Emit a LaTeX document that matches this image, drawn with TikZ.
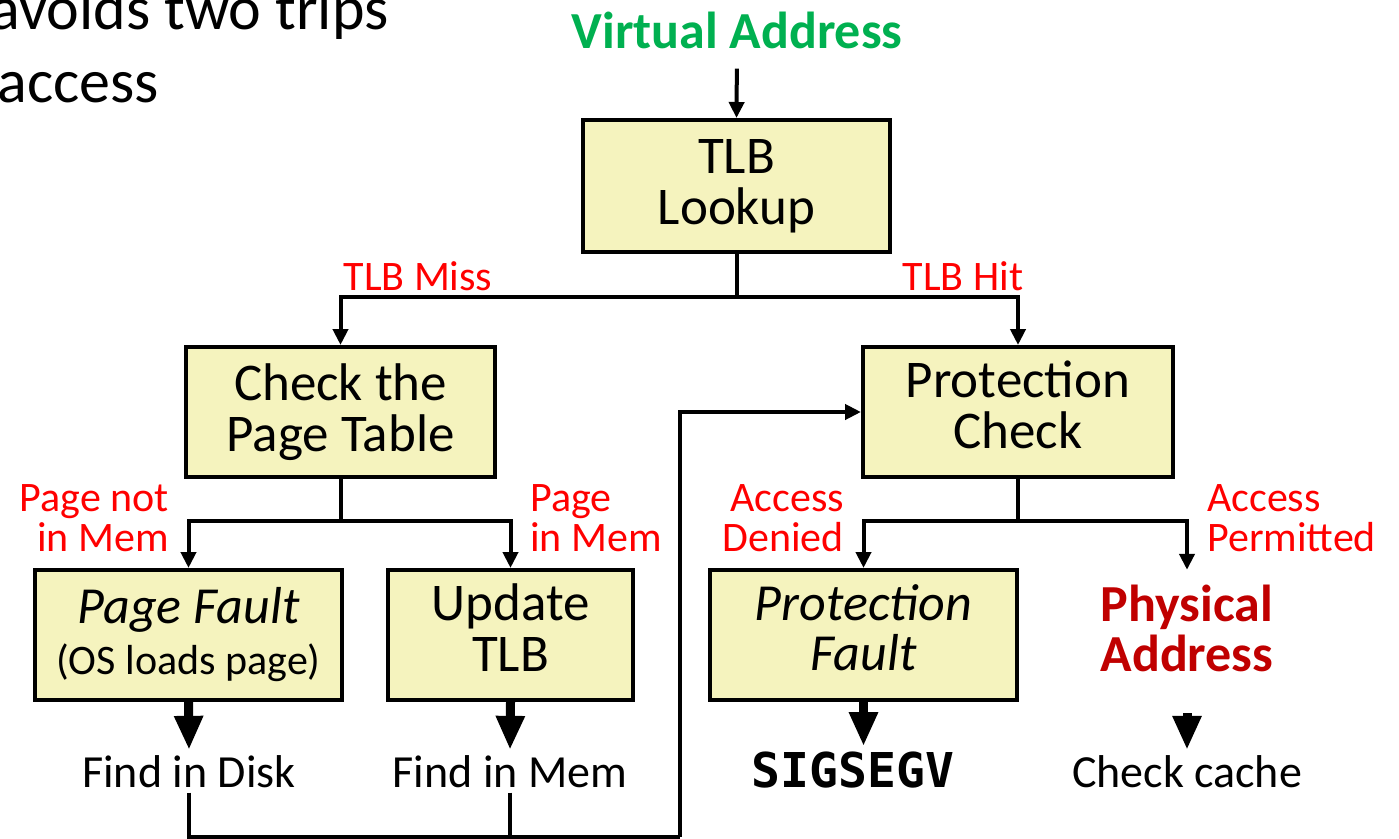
\documentclass[tikz,border=0pt]{standalone}
\usepackage{fontspec}
\setmainfont{Carlito}
\newfontfamily\codefont{DejaVu Sans Mono}
\usetikzlibrary{arrows.meta,positioning}

\definecolor{boxfill}{RGB}{245,243,190}
\definecolor{lblred}{RGB}{255,0,0}
\definecolor{vagreen}{RGB}{0,176,80}
\definecolor{pared}{RGB}{192,0,0}

\newcommand{\bigtxt}{\fontsize{53}{51}\selectfont}
\newcommand{\lbltxt}{\fontsize{42}{40}\selectfont}
\newcommand{\resulttxt}{\fontsize{46}{46}\selectfont}

\begin{document}
\begin{tikzpicture}[x=1pt,y=-1pt,
		box/.style={draw, line width=4pt, fill=boxfill, minimum height=130pt, align=center, font=\bigtxt, inner sep=0pt},
		lbl/.style={text=lblred, font=\lbltxt, inner sep=0pt},
		outtxt/.style={font=\resulttxt, inner sep=5pt, anchor=base},
		conn/.style={line width=4pt},
		fat/.style={line width=9pt, -{Triangle[length=34pt,width=27pt]}},
		>={Triangle[length=16pt,width=15pt]}]
	\useasboundingbox (0,0) rectangle (1399,838);

	% slide text running in from the left
	\node[font=\fontsize{62}{74}\selectfont, anchor=base east, inner sep=0pt] (slide1) at (389,29) {avoids two trips};
	\node[font=\fontsize{62}{74}\selectfont, anchor=base east, inner sep=0pt] (slide2) at (159,102) {access};

	% boxes
	\node[font=\fontsize{52}{50}\selectfont\bfseries, text=vagreen, anchor=base, inner sep=0pt] (vaddr) at (737,48) {Virtual Address};
	\node[box, minimum width=307pt, minimum height=132pt] (lookup) at (736.5,186) {TLB\\Lookup};
	\node[box, minimum width=309pt] (ptable) at (340.5,412) {Check the\\Page Table};
	\node[box, minimum width=310pt] (protcheck) at (1018,412) {Protection\\Check\strut};
	\node[box, minimum width=307pt] (pfault) at (188.5,635) {{\fontsize{52}{48}\selectfont\itshape Page Fault}\\{\fontsize{42}{44}\selectfont (OS loads page)}};
	\node[box, minimum width=245pt] (updtlb) at (510.5,635) {Update\\TLB\strut};
	\node[box, minimum width=307pt, font=\fontsize{52}{50}\selectfont\itshape] (protfault) at (863.5,635) {Protection\\Fault\strut};
	\node[align=center, font=\fontsize{52}{50}\selectfont\bfseries, text=pared, minimum height=116pt, inner sep=0pt] (paddr) at (1187,628) {Physical\\Address};

	% where each path ends up
	\node[outtxt] (disk) at (189,787) {Find in Disk};
	\node[outtxt] (mem) at (510,787) {Find in Mem};
	\node[outtxt, font=\fontsize{48}{48}\selectfont\codefont\bfseries] (segv) at (853,787) {SIGSEGV};
	\node[outtxt] (cache) at (1187,787) {Check cache};

	% branch labels
	\node[lbl, anchor=base] (miss) at (418,290) {TLB Miss};
	\node[lbl, anchor=base] (hit) at (963,290) {TLB Hit};
	\node[lbl, anchor=base east, align=right] (notmem) at (169,551) {Page not\\in Mem};
	\node[lbl, anchor=base west, align=left] (inmem) at (530,551) {Page\\in Mem};
	\node[lbl, anchor=base east, align=right] (denied) at (844,551) {Access\\Denied};
	\node[lbl, anchor=base west, align=left] (permit) at (1207,551) {Access\\Permitted};

	% connectors
	\coordinate (split1) at (736.5,297);
	\coordinate (split2) at (340.5,521);
	\coordinate (split3) at (1018,521);
	\coordinate (retpt) at (680,837);

	\draw[conn,->,shorten <=20pt] (vaddr.south) -- (lookup.north);
	\draw[conn,->] (lookup.south) -- (split1) -| (ptable.north);
	\draw[conn,->] (split1) -| (protcheck.north);
	\draw[conn,->] (ptable.south) -- (split2) -| (pfault.north);
	\draw[conn,->] (split2) -| (updtlb.north);
	\draw[conn,->] (protcheck.south) -- (split3) -| (protfault.north);
	\draw[conn,->] (split3) -| (paddr.north);

	\draw[fat] (pfault.south) -- (disk.north);
	\draw[fat] (updtlb.south) -- (mem.north);
	\draw[fat] (protfault.south) -- (protfault.south |- segv.north);
	\draw[fat, shorten <=27pt] (paddr.south) -- (cache.north);

	% back round to the protection check
	\draw[conn] (disk.south) |- (retpt);
	\draw[conn] (mem.south) -- (mem.south |- retpt);
	\draw[conn,->] (retpt) |- (protcheck.west);
\end{tikzpicture}
\end{document}
